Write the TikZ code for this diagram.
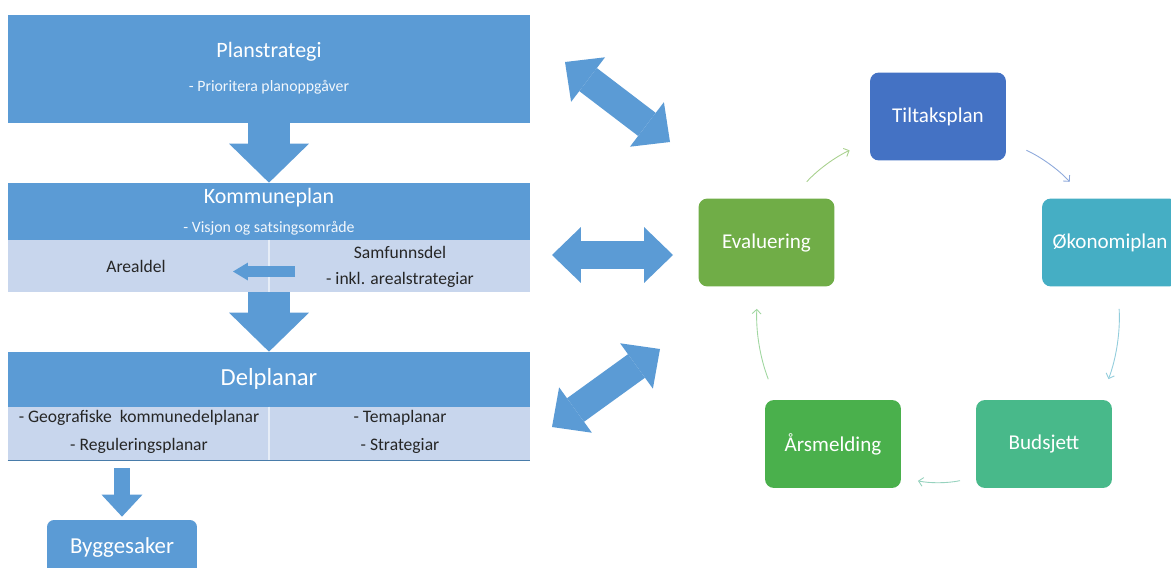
\documentclass[tikz,border=0pt]{standalone}
\usepackage{fontspec}
\setmainfont{Carlito}
\usetikzlibrary{arrows.meta}
\usetikzlibrary{positioning}
\definecolor{planblue}{RGB}{91,155,213}
\definecolor{panelblue}{RGB}{200,214,237}
\definecolor{textdark}{RGB}{38,38,38}
\definecolor{tiltakcol}{RGB}{68,114,196}
\definecolor{okocol}{RGB}{69,174,196}
\definecolor{budcol}{RGB}{72,185,138}
\definecolor{arscol}{RGB}{74,176,76}
\definecolor{evalcol}{RGB}{112,173,71}

\begin{document}
\begin{tikzpicture}[x=0.02cm,y=-0.02cm,
		band/.style={fill=planblue,minimum width=10.44cm,inner sep=0pt},
		panel/.style={fill=panelblue,minimum width=10.44cm,inner sep=0pt},
		head/.style={text=white,font=\fontsize{12.5}{14}\selectfont},
		sub/.style={text=white!92!planblue,font=\fontsize{9}{11}\selectfont},
		item/.style={text=textdark,font=\fontsize{10}{12}\selectfont},
		cyc/.style={rounded corners=0.18cm,minimum width=2.72cm,minimum height=1.76cm,
			text=white,font=\fontsize{12}{14}\selectfont},
		downarrow/.style={draw=planblue,line width=0.86cm,
			-{Triangle[length=0.78cm,width=1.6cm,line width=0pt]}},
		smallarrow/.style={draw=planblue,line width=0.34cm,
			-{Triangle[length=0.44cm,width=0.82cm,line width=0pt]}},
		backarrow/.style={draw=planblue,line width=0.22cm,
			-{Triangle[length=0.3cm,width=0.36cm,line width=0pt]}},
		swaparrow/.style={draw=planblue,line width=0.58cm,
			{Triangle[length=0.58cm,width=1.12cm,line width=0pt]}-{Triangle[length=0.58cm,width=1.12cm,line width=0pt]}},
		cycarrow/.style={line width=0.5pt,-{Straight Barb[length=2.5pt,width=5pt]},
			shorten <=0.44cm,shorten >=0.44cm}]
		\fill[white] (0,0) rectangle (1171,568);
		\clip (0,0) rectangle (1171,568);

		% planstrategi
		\node[band,minimum height=2.16cm] (plan) at (269,69) {};
		\node[head] (plantitle) at (269,52) {Planstrategi};
		\node[sub] (plansub) at (269,87) {- Prioritera planoppgåver};

		% kommuneplan
		\node[band,minimum height=1.14cm] (kp) at (269,211.5) {};
		\node[head] (kptitle) at (269,198) {Kommuneplan};
		\node[sub] (kpsub) at (269,228) {- Visjon og satsingsområde};
		\node[panel,minimum height=1.04cm] (kplow) at (269,266) {};
		\draw[white!55!panelblue,line width=0.6pt] (kplow.north) -- (kplow.south);
		\node[item] (areal) at (136,266) {Arealdel};
		\node[item] (samf) at (400,252) {Samfunnsdel};
		\node[item] (inkl) at (400,280) {- inkl. arealstrategiar};
		\coordinate (kpfrom) at (295,271.5);
		\coordinate (kpto) at (233,271.5);
		\draw[backarrow] (kpfrom) -- (kpto);

		% delplanar
		\node[band,minimum height=1.1cm] (dp) at (269,379.5) {};
		\node[head,font=\fontsize{14}{16}\selectfont] (dptitle) at (269,379) {Delplanar};
		\node[panel,minimum height=1.06cm] (dplow) at (269,433.5) {};
		\draw[white!55!panelblue,line width=0.6pt] (dplow.north) -- (dplow.south);
		\draw[planblue!80!black,line width=0.6pt] (dplow.south west) -- (dplow.south east);
		\node[item] (geo) at (139,418) {- Geografiske\ \ kommunedelplanar};
		\node[item] (reg) at (139,446) {- Reguleringsplanar};
		\node[item] (tema) at (400,418) {- Temaplanar};
		\node[item] (strat) at (400,446) {- Strategiar};

		\node[fill=planblue,rounded corners=0.14cm,minimum width=3cm,minimum height=1.12cm,
			text=white,font=\fontsize{13}{15}\selectfont] (bygg) at (122,548) {Byggesaker};

		\draw[downarrow] (plan.south) -- (kp.north);
		\draw[downarrow] (kplow.south) -- (dp.north);
		\draw[smallarrow,shorten <=0.16cm,shorten >=0.06cm] (dplow.south -| bygg.north) -- (bygg.north);

		% links to the cycle
		\coordinate (linkAa) at (565,62);
		\coordinate (linkAb) at (670,142);
		\coordinate (linkBa) at (552,255);
		\coordinate (linkBb) at (673,255);
		\coordinate (linkCa) at (552,427);
		\coordinate (linkCb) at (660,349);
		\draw[swaparrow] (linkAa) -- (linkAb);
		\draw[swaparrow] (linkBa) -- (linkBb);
		\draw[swaparrow] (linkCa) -- (linkCb);

		% cycle
		\node[cyc,fill=tiltakcol] (tiltak) at (938,116.5) {Tiltaksplan};
		\node[cyc,fill=okocol] (okonomi) at (1110,242.5) {Økonomiplan};
		\node[cyc,fill=budcol] (budsjett) at (1044,444) {Budsjett};
		\node[cyc,fill=arscol] (arsmelding) at (833,444) {Årsmelding};
		\node[cyc,fill=evalcol] (evaluering) at (766.5,242.5) {Evaluering};

		\draw[cycarrow,draw={rgb,255:red,169;green,209;blue,142}] (evaluering.60) to[bend left=12] (tiltak.200);
		\draw[cycarrow,draw={rgb,255:red,143;green,170;blue,220}] (tiltak.340) to[bend left=12] (okonomi.120);
		\draw[cycarrow,draw={rgb,255:red,146;green,205;blue,220}] (okonomi.-80) to[bend left=12] (budsjett.38);
		\draw[cycarrow,draw={rgb,255:red,150;green,210;blue,190},shorten <=0.32cm,shorten >=0.34cm] (budsjett.206) to[bend left=12] (arsmelding.-26);
		\draw[cycarrow,draw={rgb,255:red,160;green,215;blue,160}] (arsmelding.142) to[bend left=12] (evaluering.259);
\end{tikzpicture}
\end{document}
